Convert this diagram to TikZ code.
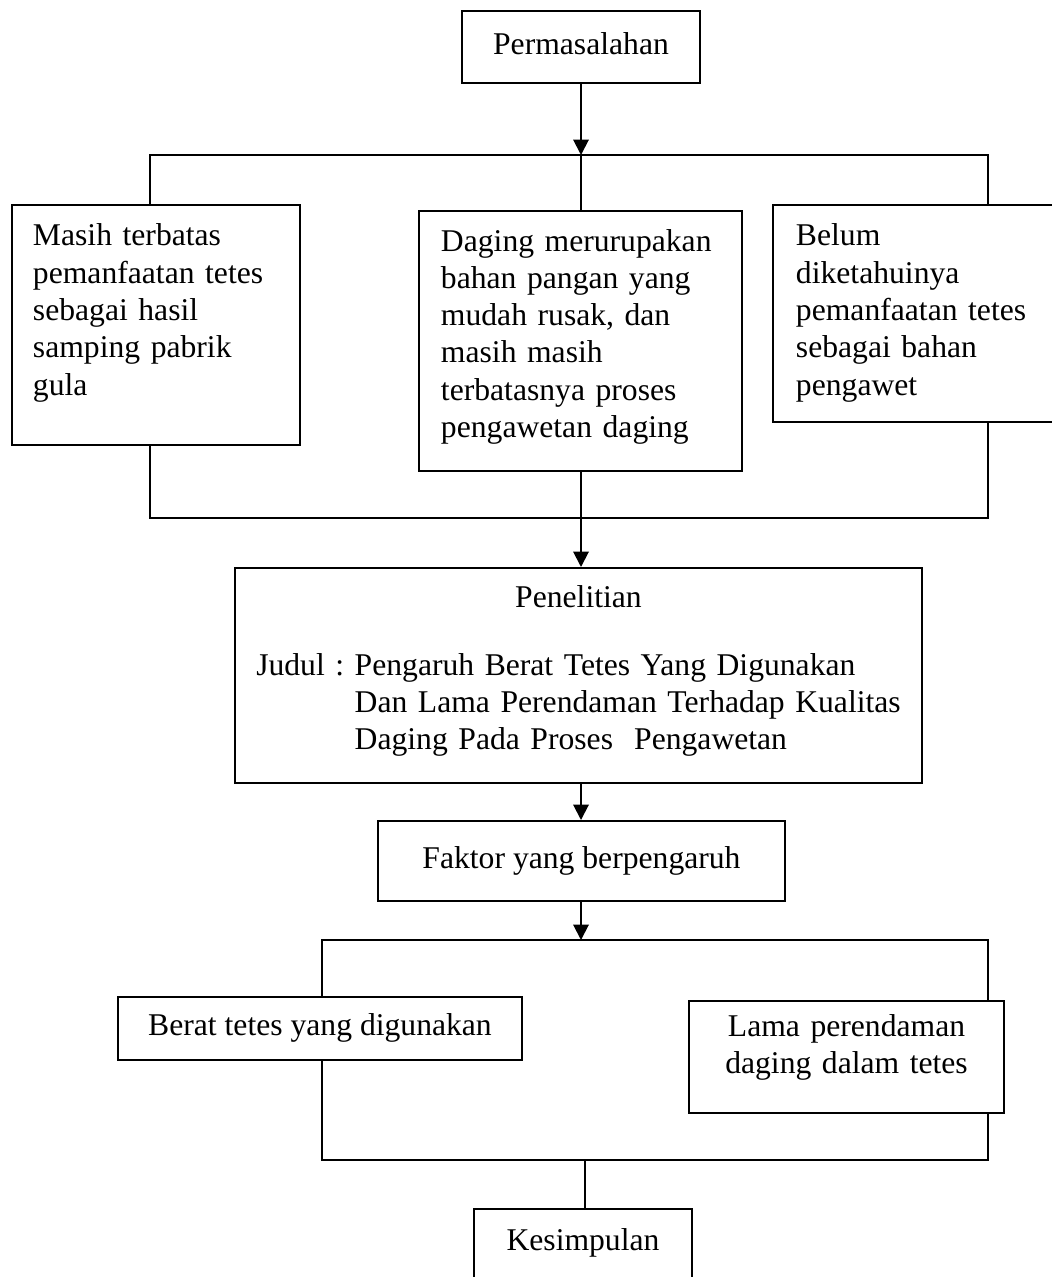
\documentclass[tikz,border=0pt]{standalone}
\usepackage{fontspec}
\setmainfont{Liberation Serif}
\usetikzlibrary{arrows.meta}

\tikzset{
  kotak/.style={draw, line width=1.4pt, inner sep=0pt, font=\fontsize{22.5pt}{26.5pt}\selectfont},
  satu/.style={kotak, text height=15.75pt, text depth=5.6pt},
  teks/.style={kotak, anchor=north west, align=left},
  garis/.style={line width=1.4pt},
  panah/.style={garis, -{Triangle[length=11pt,width=11pt]}}
}

\begin{document}
\begin{tikzpicture}[x=0.025cm, y=-0.025cm]
    \path[use as bounding box, fill=white] (0,0) rectangle (1052,1277);

    % kotak-kotak
    \node[satu, minimum width=5.95cm, minimum height=1.8cm] (perm) at (581,47) {Permasalahan};
    \node[teks, text width=6.15cm, inner xsep=0.525cm, text height=1.025cm, text depth=4.975cm] (masih) at (11,204)
        {Masih terbatas\\ pemanfaatan tetes\\ sebagai hasil\\ samping pabrik\\ gula};
    \node[teks, text width=6.975cm, inner xsep=0.55cm, text height=1cm, text depth=5.5cm] (daging) at (418,210)
        {Daging merurupakan\\ bahan pangan yang\\ mudah rusak, dan\\ masih masih\\ terbatasnya proses\\ pengawetan daging};
    \node[teks, text width=6.1cm, inner xsep=0.575cm, text height=1.025cm, text depth=4.4cm] (belum) at (772,204)
        {Belum\\ diketahuinya\\ pemanfaatan tetes\\ sebagai bahan\\ pengawet};
    \node[kotak, anchor=north, align=center, text width=17.175cm, text height=0.975cm, text depth=4.4cm] (pen) at (578.5,567)
        {Penelitian\\[22pt]
         \begin{tabular}[t]{@{}l@{\ }l@{}}
           Judul : & Pengaruh Berat Tetes Yang Digunakan\\
                   & Dan Lama Perendaman Terhadap Kualitas\\
                   & Daging Pada Proses\ \ Pengawetan
         \end{tabular}};
    \node[satu, minimum width=10.175cm, minimum height=2cm] (faktor) at (581.5,861) {Faktor yang berpengaruh};
    \node[satu, minimum width=10.1cm, minimum height=1.575cm] (berat) at (320,1028.5) {Berat tetes yang digunakan};
    \node[teks, align=center, text width=7.875cm, text height=0.875cm, text depth=1.925cm] (lama) at (688,1000)
        {Lama perendaman\\ daging dalam tetes};
    \node[kotak, anchor=north, align=center, text width=5.45cm, text height=1.025cm, text depth=1.5cm] (kes) at (583,1208) {Kesimpulan};

    % titik cabang
    \coordinate (a1) at (150,155);
    \coordinate (a2) at (581,155);
    \coordinate (a3) at (988,155);
    \coordinate (b1) at (150,518);
    \coordinate (b3) at (988,518);
    \coordinate (c1) at (322,940);
    \coordinate (c2) at (581,940);
    \coordinate (c3) at (988,940);
    \coordinate (d1) at (322,1160);
    \coordinate (d2) at (585,1160);
    \coordinate (d3) at (988,1160);

    % garis penghubung
    \draw[panah] (perm) -- (a2);
    \draw[garis] (a1 |- masih.north) -- (a1) -- (a3) -- (a3 |- belum.north);
    \draw[garis] (a2) -- (a2 |- daging.north);
    \draw[garis] (b1 |- masih.south) -- (b1) -- (b3) -- (b3 |- belum.south);
    \draw[panah] (a2 |- daging.south) -- (a2 |- pen.north);
    \draw[panah] (a2 |- pen.south) -- (a2 |- faktor.north);
    \draw[panah] (a2 |- faktor.south) -- (c2);
    \draw[garis] (c1 |- berat.north) -- (c1) -- (c3) -- (c3 |- lama.north);
    \draw[garis] (d1 |- berat.south) -- (d1) -- (d3) -- (d3 |- lama.south);
    \draw[garis] (d2) -- (d2 |- kes.north);
\end{tikzpicture}
\end{document}
